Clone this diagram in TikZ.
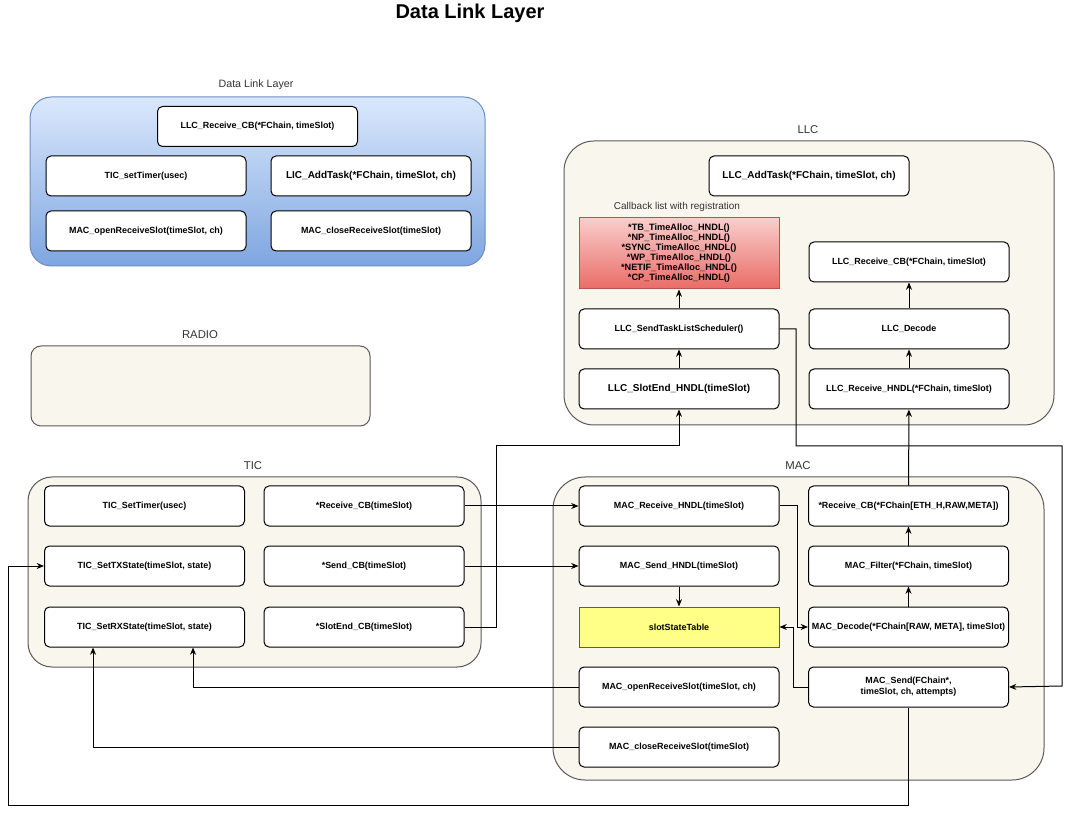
\documentclass[tikz,border=0pt]{standalone}
\usepackage{fontspec}
\setmainfont{Liberation Sans}
\usetikzlibrary{arrows.meta,calc}

\definecolor{noteFill}{HTML}{F9F7ED}
\definecolor{noteLine}{HTML}{5A5A5A}
\definecolor{labelGray}{HTML}{333333}
\definecolor{blueTop}{HTML}{DAE8FC}
\definecolor{blueBottom}{HTML}{7EA6E0}
\definecolor{blueLine}{HTML}{6C8EBF}
\definecolor{redTop}{HTML}{F8CECC}
\definecolor{redBottom}{HTML}{EA6B66}
\definecolor{redLine}{HTML}{B85450}
\definecolor{tableFill}{HTML}{FFFF88}

\begin{document}
\begin{tikzpicture}[x=0.75pt,y=-0.75pt,
    >={Stealth[length=5.5pt,width=4.5pt]},
    fn/.style={draw=black,line width=0.75pt,rounded corners=3.75pt,fill=white,minimum width=150pt,minimum height=30pt,inner sep=1pt,align=center,font=\fontsize{6.7}{8}\selectfont\bfseries},
    fnbig/.style={fn,font=\fontsize{7.5}{9}\selectfont\bfseries},
    panel/.style={draw=noteLine,line width=0.75pt,fill=noteFill},
    panellabel/.style={text=labelGray,font=\fontsize{8.5}{10}\selectfont},
    link/.style={->,draw=black,line width=0.75pt}]

    \fill[white] (0,0) rectangle (1075,816);
    \useasboundingbox (0,0) rectangle (1075,816);

    \node[font=\fontsize{15}{18}\selectfont\bfseries] (pageTitle) at (470,13) {Data Link Layer};

    \node[draw=blueLine,line width=0.75pt,top color=blueTop,bottom color=blueBottom,rounded corners=16pt,minimum width=341.25pt,minimum height=126.75pt] (dll) at (257.5,181.5) {};
    \node[panellabel,font=\fontsize{8}{9.6}\selectfont] (dllLabel) at (256,85) {Data Link Layer};
    \node[fn] (dllRecvCB) at (257.5,126.5) {LLC\_Receive\_CB(*FChain, timeSlot)};
    \node[fn] (dllTimer) at (146,176) {TIC\_setTimer(usec)};
    \node[fnbig] (dllAddTask) at (371,176) {LIC\_AddTask(*FChain, timeSlot, ch)};
    \node[fn] (dllOpen) at (146,231) {MAC\_openReceiveSlot(timeSlot, ch)};
    \node[fn] (dllClose) at (371,231) {MAC\_closeReceiveSlot(timeSlot)};

    \node[panel,rounded corners=7.5pt,minimum width=254.25pt,minimum height=60pt] (radio) at (200.5,386) {};
    \node[panellabel] (radioLabel) at (200,335) {RADIO};

    \node[panel,rounded corners=22.5pt,minimum width=367.5pt,minimum height=213pt] (llc) at (809,283) {};
    \node[panellabel] (llcLabel) at (808,130) {LLC};
    \node[fnbig] (llcAddTask) at (809,176) {LLC\_AddTask(*FChain, timeSlot, ch)};
    \node[panellabel,font=\fontsize{7.5}{9}\selectfont] (cbLabel) at (677,207) {Callback list with registration};
    \node[fn,rounded corners=0pt,draw=redLine,top color=redTop,bottom color=redBottom,minimum height=53.25pt,font=\fontsize{6.9}{7.5}\selectfont\bfseries] (cbList) at (679,253.5)
      {*TB\_TimeAlloc\_HNDL()\\*NP\_TimeAlloc\_HNDL()\\*SYNC\_TimeAlloc\_HNDL()\\*WP\_TimeAlloc\_HNDL()\\*NETIF\_TimeAlloc\_HNDL()\\*CP\_TimeAlloc\_HNDL()};
    \node[fn] (llcSched) at (679,329) {LLC\_SendTaskListScheduler()};
    \node[fnbig] (llcSlotEnd) at (679,389) {LLC\_SlotEnd\_HNDL(timeSlot)};
    \node[fn] (llcRecvCB) at (909,262) {LLC\_Receive\_CB(*FChain, timeSlot)};
    \node[fn] (llcDecode) at (909,329) {LLC\_Decode};
    \node[fn] (llcRecvHndl) at (909,389) {LLC\_Receive\_HNDL(*FChain, timeSlot)};

    \node[panel,rounded corners=18pt,minimum width=339.75pt,minimum height=142.5pt] (tic) at (254.5,572) {};
    \node[panellabel] (ticLabel) at (253,466) {TIC};
    \node[fn] (ticTimer) at (144.5,506) {TIC\_SetTimer(usec)};
    \node[fn] (ticRecvCB) at (364,506) {*Receive\_CB(timeSlot)};
    \node[fn] (ticTX) at (144.5,566) {TIC\_SetTXState(timeSlot, state)};
    \node[fn] (ticSendCB) at (364,566) {*Send\_CB(timeSlot)};
    \node[fn] (ticRX) at (144.5,627) {TIC\_SetRXState(timeSlot, state)};
    \node[fn] (ticSlotEnd) at (364,627) {*SlotEnd\_CB(timeSlot)};

    \node[panel,rounded corners=24pt,minimum width=368.25pt,minimum height=227.25pt] (mac) at (798.5,628.5) {};
    \node[panellabel] (macLabel) at (798,466) {MAC};
    \node[fn] (macRecvHndl) at (679,506) {MAC\_Receive\_HNDL(timeSlot)};
    \node[fn] (macRecvCB) at (908.5,506) {*Receive\_CB(*FChain[ETH\_H,RAW,META])};
    \node[fn] (macSendHndl) at (679,566) {MAC\_Send\_HNDL(timeSlot)};
    \node[fn] (macFilter) at (908.5,566) {MAC\_Filter(*FChain, timeSlot)};
    \node[fn,rounded corners=0pt,draw=noteLine,fill=tableFill] (slotTable) at (679,627) {slotStateTable};
    \node[fn] (macDecode) at (908.5,627) {MAC\_Decode(*FChain[RAW, META], timeSlot)};
    \node[fn] (macOpen) at (679,687) {MAC\_openReceiveSlot(timeSlot, ch)};
    \node[fn] (macSend) at (908.5,687) {MAC\_Send(FChain*,\\timeSlot, ch, attempts)};
    \node[fn] (macClose) at (679,747) {MAC\_closeReceiveSlot(timeSlot)};

    \coordinate (busA) at (496,446);
    \coordinate (busB) at (796,446);
    \coordinate (busC) at (1062,686);
    \coordinate (jogA) at (797,627);
    \coordinate (jogB) at (793,627);
    \coordinate (loopA) at (8,805);

    \draw[link] (llcSched) -- (cbList);
    \draw[link] (llcSlotEnd) -- (llcSched);
    \draw[link] (llcDecode) -- (llcRecvCB);
    \draw[link] (llcRecvHndl) -- (llcDecode);

    \draw[link] (ticRecvCB) -- (macRecvHndl);
    \draw[link] (ticSendCB) -- (macSendHndl);
    \draw[link] (ticSlotEnd.east) -| (busA) -| (llcSlotEnd.south);
    \draw[link] (llcSched.east) -| (busB) -| (busC) -- (macSend.east);
    \draw[link] (macRecvCB) -- (llcRecvHndl);

    \draw[link] (macFilter) -- (macRecvCB);
    \draw[link] (macDecode) -- (macFilter);
    \draw[link] (macSendHndl) -- (slotTable);
    \draw[link] (macRecvHndl.east) -| (jogA) -- (macDecode.west);
    \draw[link] (macSend.west) -| (jogB) -- (slotTable.east);

    \draw[link] (macOpen.west) -| ([xshift=36.4pt]ticRX.south);
    \draw[link] (macClose.west) -| ([xshift=-38.6pt]ticRX.south);
    \draw[link] (macSend.south) |- (loopA) |- (ticTX.west);
  \end{tikzpicture}
\end{document}
